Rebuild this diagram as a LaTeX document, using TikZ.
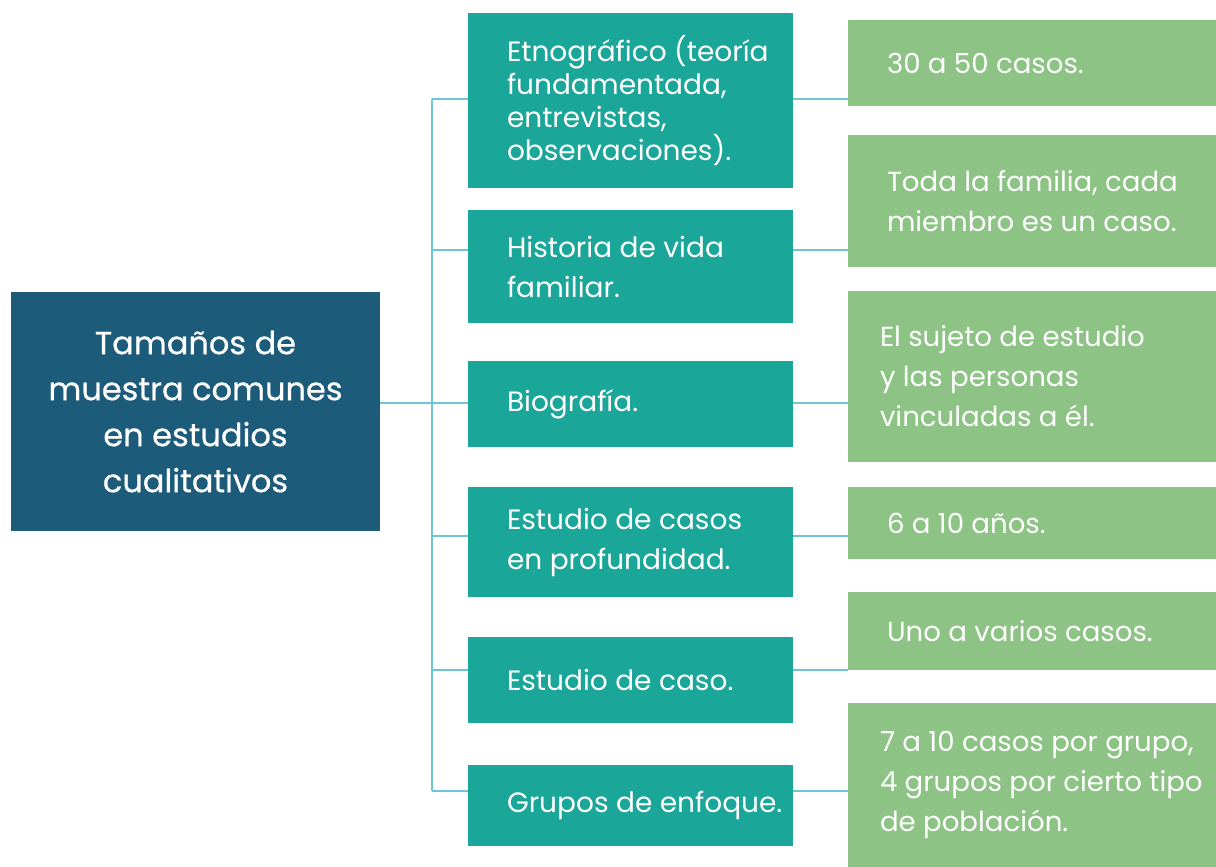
\documentclass[tikz,border=0pt]{standalone}
\usepackage{fontspec}
\setmainfont{Poppins}
\newfontfamily\titlefont{Poppins}[FakeBold=0.6]
\definecolor{titleblue}{HTML}{1D5B7B}
\definecolor{methodteal}{HTML}{1BA69A}
\definecolor{casegreen}{HTML}{8DC385}
\definecolor{linkblue}{RGB}{110,197,214}
\begin{document}
\begin{tikzpicture}[x=0.5pt, y=-0.5pt,
    mainbox/.style={rectangle, fill=titleblue, text=white, inner sep=0pt,
        minimum width=184.5pt, minimum height=119.5pt, align=center,
        font=\titlefont\fontsize{16}{23}\selectfont},
    midbox/.style={rectangle, fill=methodteal, inner sep=0pt, minimum width=162.5pt},
    casebox/.style={rectangle, fill=casegreen, inner sep=0pt, minimum width=184pt},
    midtext/.style={anchor=west, text=white, inner sep=0pt, align=left,
        font=\fontsize{14}{20}\selectfont},
    casetext/.style={anchor=west, text=white, inner sep=0pt, align=left,
        font=\fontsize{13.8}{20}\selectfont},
    link/.style={draw=linkblue, line width=1pt}]
    \useasboundingbox (0,0) rectangle (1216,867);
    % --- caja principal ---
    \node[mainbox] (main) at (195.5,411.5) {Tamaños de\\muestra comunes\\en estudios\\cualitativos};
    % --- tipos de estudio ---
    \node[midbox, minimum height=87.5pt] (m1) at (630.5,100.5) {};
    \node[midbox, minimum height=56.5pt] (m2) at (630.5,266.5) {};
    \node[midbox, minimum height=43pt] (m3) at (630.5,404) {};
    \node[midbox, minimum height=55pt] (m4) at (630.5,542) {};
    \node[midbox, minimum height=43pt] (m5) at (630.5,680) {};
    \node[midbox, minimum height=40.5pt] (m6) at (630.5,805.5) {};
    \node[midtext, font=\fontsize{14}{16.5}\selectfont] (m1txt) at ([xshift=19.5pt]m1.west) {Etnográfico (teoría\\fundamentada,\\entrevistas,\\observaciones).};
    \node[midtext] (m2txt) at ([xshift=19.5pt]m2.west) {Historia de vida\\familiar.};
    \node[midtext] (m3txt) at ([xshift=19.5pt]m3.west) {Biografía.};
    \node[midtext] (m4txt) at ([xshift=19.5pt]m4.west) {Estudio de casos\\en profundidad.};
    \node[midtext] (m5txt) at ([xshift=19.5pt]m5.west) {Estudio de caso.};
    \node[midtext] (m6txt) at ([xshift=19.5pt]m6.west) {Grupos de enfoque.};
    % --- tamaños de muestra ---
    \node[casebox, minimum height=43pt] (r1) at (1032,63) {};
    \node[casebox, minimum height=66pt] (r2) at (1032,201) {};
    \node[casebox, minimum height=85.5pt] (r3) at (1032,376.5) {};
    \node[casebox, minimum height=36pt] (r4) at (1032,523) {};
    \node[casebox, minimum height=39pt] (r5) at (1032,631) {};
    \node[casebox, minimum height=82pt] (r6) at (1032,785) {};
    \node[casetext] (r1txt) at ([xshift=19.5pt]r1.west) {30 a 50 casos.};
    \node[casetext] (r2txt) at ([xshift=19.5pt]r2.west) {Toda la familia, cada\\miembro es un caso.};
    \node[casetext] (r3txt) at ([xshift=16pt]r3.west) {El sujeto de estudio\\y las personas\\vinculadas a él.};
    \node[casetext] (r4txt) at ([xshift=19.5pt]r4.west) {6 a 10 años.};
    \node[casetext] (r5txt) at ([xshift=19.5pt]r5.west) {Uno a varios casos.};
    \node[casetext] (r6txt) at ([xshift=16pt]r6.west) {7 a 10 casos por grupo,\\4 grupos por cierto tipo\\de población.};
    % --- conectores ---
    \coordinate (t1) at (432,99);
    \coordinate (t2) at (432,250);
    \coordinate (t3) at (432,403);
    \coordinate (t4) at (432,536);
    \coordinate (t5) at (432,670);
    \coordinate (t6) at (432,791);
    \draw[link] (t1) -- (t6);
    \draw[link] (main.east |- t3) -- (t3);
    \draw[link] (t1) -- (t1 -| m1.west);
    \draw[link] (t2) -- (t2 -| m2.west);
    \draw[link] (t3) -- (t3 -| m3.west);
    \draw[link] (t4) -- (t4 -| m4.west);
    \draw[link] (t5) -- (t5 -| m5.west);
    \draw[link] (t6) -- (t6 -| m6.west);
    \draw[link] (m1.east |- t1) -- (r1.west |- t1);
    \draw[link] (m2.east |- t2) -- (r2.west |- t2);
    \draw[link] (m3.east |- t3) -- (r3.west |- t3);
    \draw[link] (m4.east |- t4) -- (r4.west |- t4);
    \draw[link] (m5.east |- t5) -- (r5.west |- t5);
    \draw[link] (m6.east |- t6) -- (r6.west |- t6);
\end{tikzpicture}
\end{document}
